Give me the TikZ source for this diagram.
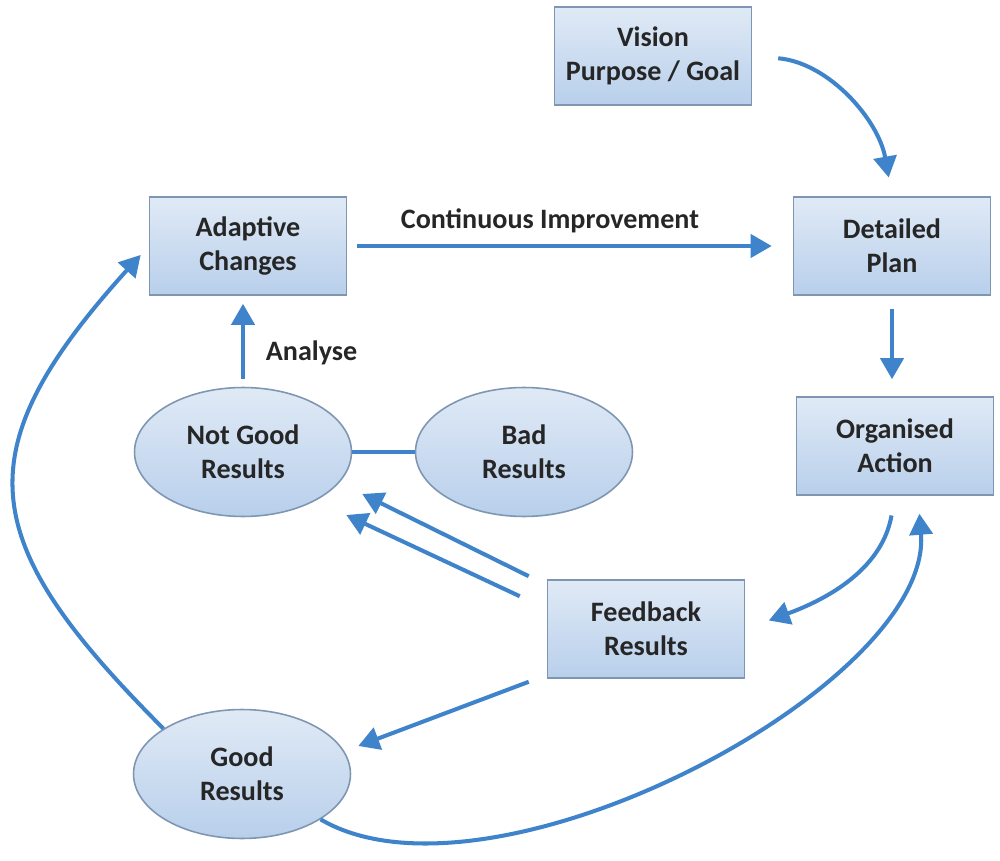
\documentclass[tikz,border=0pt]{standalone}
\usepackage{fontspec}
\setmainfont{Carlito}
\usetikzlibrary{arrows.meta,shapes.geometric,calc}

\definecolor{arrblue}{HTML}{3F84CB}
\definecolor{boxline}{HTML}{7F96B2}
\definecolor{boxtop}{HTML}{E0EAF6}
\definecolor{boxbot}{HTML}{B8CFEB}
\definecolor{txt}{HTML}{262626}

\tikzset{
  box/.style={rectangle, draw=boxline, line width=0.9pt, top color=boxtop, bottom color=boxbot,
    minimum width=3.94cm, minimum height=1.96cm, align=center, text=txt,
    font=\fontsize{16}{19.3}\selectfont\bfseries},
  blob/.style={ellipse, draw=boxline, line width=0.9pt, top color=boxtop, bottom color=boxbot,
    minimum width=4.34cm, minimum height=2.58cm,
    inner sep=0pt, align=center, text=txt, font=\fontsize{16}{19.3}\selectfont\bfseries},
  arr/.style={draw=arrblue, line width=2.3pt, -{Triangle[width=0.46cm,length=0.42cm]}},
  lnk/.style={draw=arrblue, line width=2.3pt},
  lbl/.style={text=txt, font=\fontsize{16}{19.3}\selectfont\bfseries}
}

\begin{document}
\begin{tikzpicture}[x=0.02cm,y=-0.02cm]

\useasboundingbox (0,0) rectangle (1000,861);

% boxes
\node[box] (vision) at (653,56) {Vision\\Purpose / Goal};
\node[box] (adaptive) at (248,246) {Adaptive\\Changes};
\node[box] (detailed) at (892,246) {Detailed\\Plan};
\node[box] (organised) at (895,446) {Organised\\Action};
\node[box] (feedback) at (646,629) {Feedback\\Results};

% ellipses
\node[blob] (notgood) at (243,452) {Not Good\\Results};
\node[blob] (bad) at (524,452) {Bad\\Results};
\node[blob] (good) at (242,774) {Good\\Results};

% arrows
\draw[arr, shorten <=0.52cm, shorten >=0.38cm] (vision.east) to[out=-5, in=100] (detailed.north);
\draw[arr, shorten <=0.2cm, shorten >=0.42cm] (adaptive.east) -- (detailed.west)
  node[lbl, pos=0.455, above=0.1cm] {Continuous Improvement};
\draw[arr, shorten <=0.26cm, shorten >=0.34cm] (detailed.south) -- (detailed.south |- organised.north);
\draw[arr, shorten <=0.16cm, shorten >=0.16cm] (notgood.north) -- (notgood.north |- adaptive.south)
  node[lbl, pos=0.37, right=0.3cm] {Analyse};
\draw[lnk] (notgood.east) -- (bad.west);

\draw[arr] ($(feedback.north west)+(-18,-3)$) -- ($(notgood.east)+(10,42)$);
\draw[arr] ($(feedback.north west)+(-27,17)$) -- ($(notgood.east)+(-6,63)$);

\draw[arr, shorten <=0.4cm, shorten >=0.5cm] (organised.south) to[out=-100, in=20] (feedback.east);
\draw[arr] ($(feedback.south west)+(-18,3)$) -- ($(good.east)+(7,-28)$);
\draw[arr, shorten >=0.36cm] (good.-30) .. controls +(170,100) and +(15,190) .. ($(organised.south)+(23,0)$);
\draw[arr, shorten >=0.24cm] (good.150) .. controls +(-187,-187) and +(-187,207) .. (adaptive.west);

\end{tikzpicture}
\end{document}
